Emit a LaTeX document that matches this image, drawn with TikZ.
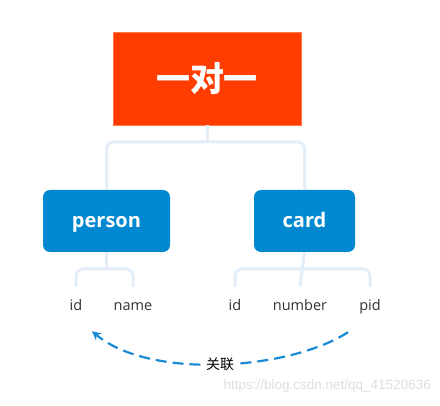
\documentclass[tikz,border=0pt]{standalone}
\usepackage{fontspec}
\setmainfont{Open Sans}
\newfontfamily\cjk{Noto Sans CJK SC}
\newfontfamily\wmfont{Liberation Sans}
\definecolor{rootred}{HTML}{FF3D00}
\definecolor{boxblue}{HTML}{0288D1}
\definecolor{treeline}{HTML}{E4EEF8}
\definecolor{arrowblue}{HTML}{1A8AD4}
\definecolor{leaftext}{HTML}{333333}
\usetikzlibrary{arrows.meta}
\begin{document}
\begin{tikzpicture}[x=1pt,y=-1pt,
  rootbox/.style={fill=rootred,draw=rootred!70!white,line width=0.6pt,minimum width=188pt,minimum height=93pt,inner sep=0pt,text=white,font=\cjk\bfseries\fontsize{34}{36}\selectfont},
  tablebox/.style={fill=boxblue,rounded corners=7pt,minimum height=62pt,inner sep=0pt,text height=17pt,text depth=3pt,text=white,font=\bfseries\fontsize{20}{22}\selectfont},
  leaf/.style={minimum height=40pt,inner sep=2pt,text height=10pt,text depth=3pt,text=leaftext,font=\fontsize{14.5}{16}\selectfont},
  tree/.style={draw=treeline,line width=3pt,rounded corners=7pt},
  linkarrow/.style={draw=arrowblue,line width=2.2pt,dash pattern=on 11pt off 6pt,-{Stealth[length=9pt,width=9pt]}}
]
\useasboundingbox (0,0) rectangle (440,406);
\fill[white] (0,0) rectangle (440,406);

\node[rootbox] (root) at (207,78.5) {一对一};
\node[tablebox,minimum width=127pt] (person) at (106.5,221) {person};
\node[tablebox,minimum width=101pt] (card) at (304.5,221) {card};

\node[leaf] (pid1) at (76,307) {id};
\node[leaf] (pname) at (133,307) {name};
\node[leaf] (cid) at (235,307) {id};
\node[leaf] (cnum) at (300,307) {number};
\node[leaf] (cpid) at (370,307) {pid};

\coordinate (rj) at (207,142);
\coordinate (pj) at (106.5,269);
\coordinate (cj) at (304.5,269);

\draw[tree,rounded corners=0pt] (root.south) -- (rj);
\draw[tree] (person.north) |- (rj) -| (card.north);

\draw[tree,rounded corners=0pt] (person.south) -- (pj);
\draw[tree] (pid1.north) |- (pj) -| (pname.north);

\draw[tree,rounded corners=0pt] (card.south) -- (cnum.north);
\draw[tree] (cid.north) |- (cj) -| (cpid.north);

\draw[linkarrow] ([shift={(-22pt,-5pt)}]cpid.south) .. controls (290,370) and (150,380) .. ([shift={(16pt,-4pt)}]pid1.south)
  node[pos=0.5,fill=white,inner sep=1pt,text=black,font=\cjk\fontsize{14}{16}\selectfont] (lbl) {关联};

\node[anchor=east,text=black!13,font=\wmfont\fontsize{13.5}{15}\selectfont,inner sep=0pt] (wm) at (431,386) {https://blog.csdn.net/qq\_41520636};
\end{tikzpicture}
\end{document}
